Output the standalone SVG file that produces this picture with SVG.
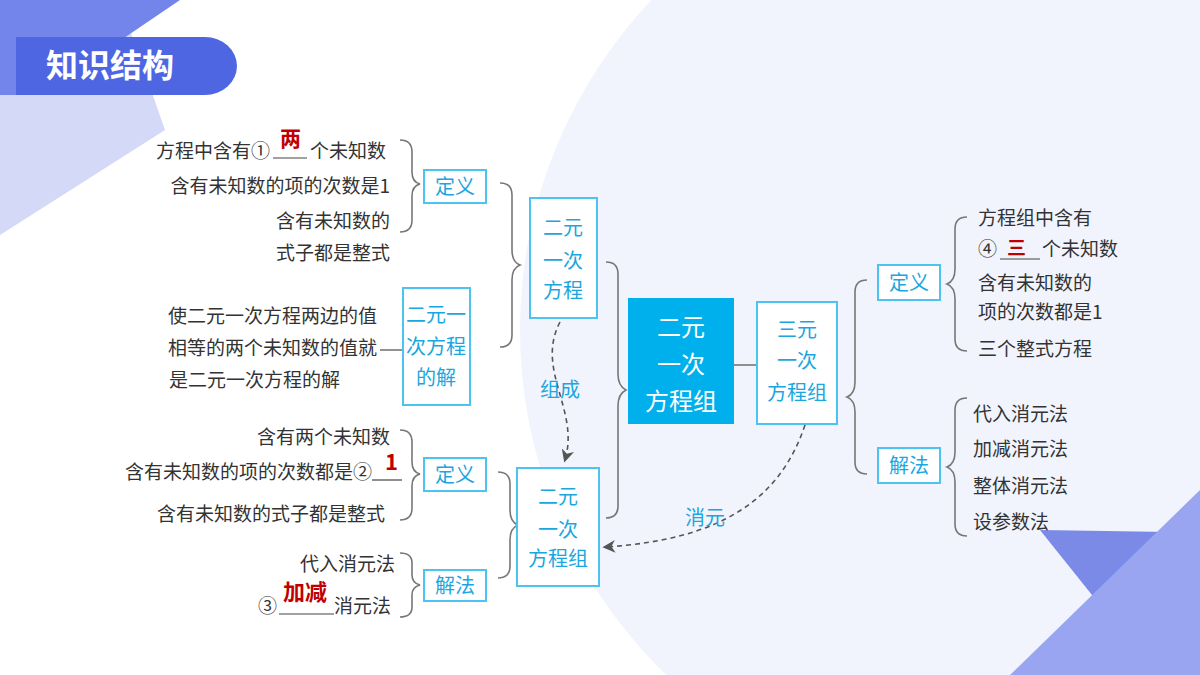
<svg xmlns="http://www.w3.org/2000/svg" width="1200" height="675" viewBox="0 0 1200 675">
<defs>
<marker id="ah" viewBox="0 0 10 10" refX="8" refY="5" markerWidth="8" markerHeight="8" orient="auto"><path d="M0,0 L10,5 L0,10 L3,5 Z" fill="#555"/></marker>
</defs>
<style>
text{font-family:"Noto Sans CJK SC","Noto Sans",sans-serif}
.t{font-size:19px;fill:#333}
.b{font-size:20px;fill:#1aa6e0}
.box{fill:#fff;stroke:#4cc3f0;stroke-width:2}
.br{fill:none;stroke:#777;stroke-width:1.6}
.red{fill:#c00000;font-weight:bold}
.u{stroke:#444;stroke-width:1.2}
.dash{fill:none;stroke:#555;stroke-width:1.6;stroke-dasharray:5 4}
</style>
<rect width="1200" height="675" fill="#fff"/>
<circle cx="1000" cy="330" r="480" fill="#f2f4fd"/>
<polygon points="0,95 0,235 165,130 130,30 0,30" fill="#d4d9f7"/>
<polygon points="0,0 180,0 40,95 0,95" fill="#7385ea"/>
<path d="M16,37 H205 A32,29 0 0 1 205,95 H16 Z" fill="#4f66e3"/>
<text x="46" y="77" font-size="32" font-weight="bold" fill="#fff">知识结构</text>
<polygon points="1040,530 1170,532 1100,605" fill="#7a8ae6"/>
<polygon points="1200,490 1200,675 1010,675" fill="#99a5f0"/>

<g id="connectors">
<path class="br" d="M400,140 q12,0 12,12 v20 q0,10 8,12 q-8,2 -8,12 v24 q0,12 -12,12"/>
<path class="br" d="M500,183 q12,0 12,12 v55 q0,12 8,15 q-8,3 -8,15 v55 q0,12 -12,12"/>
<path class="br" d="M606,262 q12,0 12,12 v100 q0,12 8,16 q-8,4 -8,16 v100 q0,12 -12,12"/>
<path class="br" d="M867,280 q-12,0 -12,12 v90 q0,12 -8,15 q8,3 8,15 v50 q0,12 12,12"/>
<path class="br" d="M967,217 q-12,0 -12,12 v40 q0,12 -8,15 q8,3 8,15 v40 q0,12 12,12"/>
<path class="br" d="M967,398 q-12,0 -12,12 v42 q0,12 -8,15 q8,3 8,15 v42 q0,12 12,12"/>
<path class="br" d="M400,430 q12,0 12,12 v20 q0,10 8,12 q-8,2 -8,12 v22 q0,12 -12,12"/>
<path class="br" d="M400,553 q12,0 12,10 v12 q0,8 8,10 q-8,2 -8,10 v12 q0,10 -12,10"/>
<path class="br" d="M498,472 q12,0 12,12 v26 q0,12 8,15 q-8,3 -8,15 v26 q0,12 -12,12"/>
<path class="br" d="M380,350 H402"/>
<path class="br" d="M733,365 H757"/>
<path class="dash" d="M560,322 C535,370 580,410 565,460" marker-end="url(#ah)"/>
<path class="dash" d="M805,425 C780,500 720,540 605,547" marker-end="url(#ah)"/>
<text class="b" x="540" y="397">组成</text>
<text class="b" x="685" y="525">消元</text>
</g>

<g id="n-main"><rect x="628" y="298" width="106" height="126" fill="#00b0ec"/>
<text x="681" y="336" font-size="24" fill="#fff" text-anchor="middle">二元</text>
<text x="681" y="373" font-size="24" fill="#fff" text-anchor="middle">一次</text>
<text x="681" y="410" font-size="24" fill="#fff" text-anchor="middle">方程组</text></g>

<g id="n-eq"><rect class="box" x="530" y="198" width="67" height="120"/>
<text class="b" x="563" y="235" text-anchor="middle">二元</text>
<text class="b" x="563" y="268" text-anchor="middle">一次</text>
<text class="b" x="563" y="298" text-anchor="middle">方程</text></g>

<g id="n-sol"><rect class="box" x="403" y="288" width="67" height="117"/>
<text class="b" x="436" y="322" text-anchor="middle" font-size="19">二元一</text>
<text class="b" x="436" y="354" text-anchor="middle" font-size="19">次方程</text>
<text class="b" x="436" y="385" text-anchor="middle" font-size="19">的解</text></g>

<g id="n-def1"><rect class="box" x="424" y="170" width="62" height="33"/><text class="b" x="455" y="194" text-anchor="middle">定义</text></g>
<g id="n-def2"><rect class="box" x="424" y="458" width="62" height="33"/><text class="b" x="455" y="482" text-anchor="middle">定义</text></g>
<g id="n-sol2"><rect class="box" x="424" y="570" width="62" height="31"/><text class="b" x="455" y="593" text-anchor="middle">解法</text></g>
<g id="n-grp"><rect class="box" x="517" y="468" width="82" height="118"/>
<text class="b" x="558" y="504" text-anchor="middle">二元</text>
<text class="b" x="558" y="537" text-anchor="middle">一次</text>
<text class="b" x="558" y="566" text-anchor="middle">方程组</text></g>
<g id="n-three"><rect class="box" x="757" y="302" width="80" height="122"/>
<text class="b" x="797" y="337" text-anchor="middle">三元</text>
<text class="b" x="797" y="368" text-anchor="middle">一次</text>
<text class="b" x="797" y="400" text-anchor="middle">方程组</text></g>
<g id="n-def3"><rect class="box" x="878" y="265" width="62" height="35"/><text class="b" x="909" y="290" text-anchor="middle">定义</text></g>
<g id="n-sol3"><rect class="box" x="878" y="448" width="62" height="35"/><text class="b" x="909" y="473" text-anchor="middle">解法</text></g>

<g id="texts">
<text class="t" x="270" y="158" text-anchor="end">方程中含有①</text>
<line class="u" x1="273" y1="158" x2="307" y2="158"/>
<text class="red" x="280" y="146" font-size="21">两</text>
<text class="t" x="310" y="158">个未知数</text>
<text class="t" x="390" y="193" text-anchor="end">含有未知数的项的次数是1</text>
<text class="t" x="390" y="228" text-anchor="end">含有未知数的</text>
<text class="t" x="390" y="260" text-anchor="end">式子都是整式</text>
<text class="t" x="377" y="323" text-anchor="end">使二元一次方程两边的值</text>
<text class="t" x="377" y="355" text-anchor="end">相等的两个未知数的值就</text>
<text class="t" x="340" y="387" text-anchor="end">是二元一次方程的解</text>
<text class="t" x="390" y="444" text-anchor="end">含有两个未知数</text>
<text class="t" x="372" y="479" text-anchor="end">含有未知数的项的次数都是②</text>
<line class="u" x1="372" y1="480" x2="402" y2="480"/>
<text class="red" x="385" y="470" font-size="22" font-family="Liberation Serif,serif">1</text>
<text class="t" x="385" y="521" text-anchor="end">含有未知数的式子都是整式</text>
<text class="t" x="395" y="571" text-anchor="end">代入消元法</text>
<text class="t" x="258" y="613">③</text>
<line class="u" x1="279" y1="614" x2="334" y2="614"/>
<text class="red" x="283" y="600" font-size="22">加减</text>
<text class="t" x="334" y="613">消元法</text>
<text class="t" x="978" y="225">方程组中含有</text>
<text class="t" x="978" y="256">④</text>
<line class="u" x1="1000" y1="259" x2="1040" y2="259"/>
<text class="red" x="1007" y="255" font-size="19">三</text>
<text class="t" x="1042" y="256">个未知数</text>
<text class="t" x="978" y="290">含有未知数的</text>
<text class="t" x="978" y="319">项的次数都是1</text>
<text class="t" x="978" y="356">三个整式方程</text>
<text class="t" x="973" y="421">代入消元法</text>
<text class="t" x="973" y="456">加减消元法</text>
<text class="t" x="973" y="493">整体消元法</text>
<text class="t" x="973" y="529" font-size="17">设参数法</text>
</g>
</svg>
